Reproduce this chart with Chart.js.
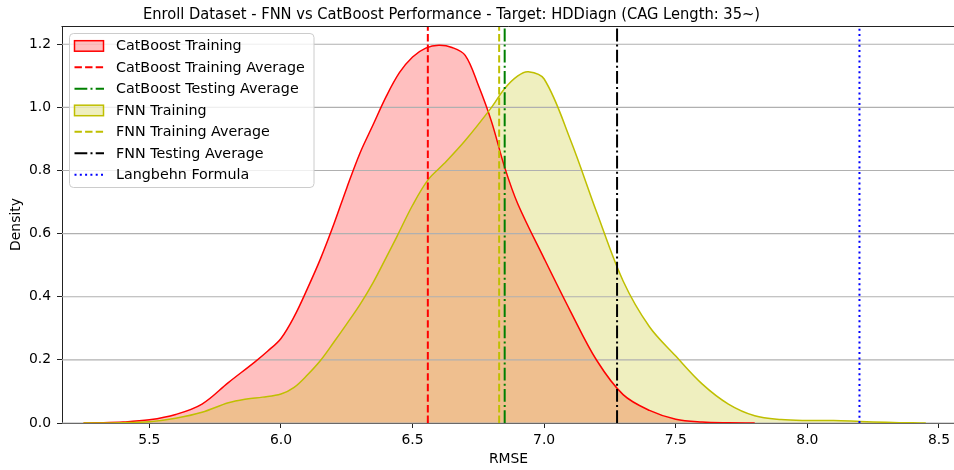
<!DOCTYPE html>
<html>
<head>
<meta charset="utf-8">
<script src="https://cdn.jsdelivr.net/npm/chart.js@4.4.1/dist/chart.umd.min.js"></script>
<style>
  html, body { margin: 0; padding: 0; background: #fff; overflow: hidden; }
  #wrap { width: 1000px; height: 470px; }
</style>
</head>
<body>
<div id="wrap"><canvas id="myChart" width="1000" height="470"></canvas></div>
<script>
// tick labels
const X_TICKS = [5.5, 6.0, 6.5, 7.0, 7.5, 8.0, 8.5];
const Y_TICKS = [0, 0.2, 0.4, 0.6, 0.8, 1.0, 1.2];

// CatBoost training RMSE density
const CAT_X = [5.25, 5.3, 5.4, 5.5, 5.6, 5.7, 5.8, 5.9, 5.95, 6.0, 6.05, 6.1, 6.15, 6.2, 6.25, 6.3, 6.35, 6.4, 6.45, 6.5, 6.55, 6.6, 6.65, 6.7, 6.75, 6.8, 6.85, 6.9, 7.0, 7.1, 7.2, 7.3, 7.4, 7.5, 7.6, 7.7, 7.8];
const CAT_Y = [0, 0.0005, 0.003, 0.01, 0.027, 0.06, 0.128, 0.193, 0.228, 0.268, 0.337, 0.425, 0.52, 0.628, 0.745, 0.855, 0.945, 1.035, 1.11, 1.16, 1.188, 1.197, 1.19, 1.165, 1.07, 0.955, 0.81, 0.694, 0.521, 0.354, 0.198, 0.09, 0.04, 0.012, 0.003, 0.0005, 0];

// FNN training RMSE density
const FNN_X = [5.25, 5.4, 5.5, 5.6, 5.7, 5.8, 5.87, 5.93, 6.0, 6.05, 6.1, 6.15, 6.2, 6.25, 6.3, 6.35, 6.4, 6.44, 6.5, 6.56, 6.62, 6.7, 6.8, 6.85, 6.9, 6.94, 7.0, 7.1, 7.2, 7.3, 7.4, 7.5, 7.6, 7.7, 7.8, 7.9, 8.0, 8.1, 8.2, 8.3, 8.4, 8.45];
const FNN_Y = [0, 0.001, 0.004, 0.015, 0.034, 0.064, 0.076, 0.082, 0.092, 0.113, 0.152, 0.198, 0.255, 0.314, 0.375, 0.445, 0.525, 0.59, 0.69, 0.772, 0.822, 0.895, 1.0, 1.06, 1.1, 1.113, 1.09, 0.897, 0.667, 0.45, 0.305, 0.212, 0.124, 0.06, 0.023, 0.011, 0.008, 0.008, 0.005, 0.002, 0.0005, 0];

// averages / reference values (vertical lines)
const CAT_TRAIN_AVG = 6.558;
const CAT_TEST_AVG = 6.850;
const FNN_TRAIN_AVG = 6.829;
const FNN_TEST_AVG = 7.277;
const LANGBEHN = 8.198;

// axis ranges
const X_MIN = 5.168, X_MAX = 8.561;
const Y_MIN = 0, Y_MAX = 1.258;

const FONT = "'DejaVu Sans', sans-serif";

function toPoints(xs, ys) {
  return xs.map((x, i) => ({ x: x, y: ys[i] }));
}

function kdeSet(label, xs, ys, color, fill, order) {
  return {
    label: label,
    data: toPoints(xs, ys),
    borderColor: color,
    backgroundColor: fill,
    borderWidth: 1.5,
    fill: "origin",
    pointRadius: 0,
    tension: 0.35,
    order: order,
    legendType: "patch",
  };
}

function vlineSet(label, x, color, dash) {
  return {
    label: label,
    data: [{ x: x, y: Y_MIN }, { x: x, y: Y_MAX }],
    borderColor: color,
    borderWidth: 2,
    borderDash: dash,
    borderCapStyle: "butt",
    fill: false,
    pointRadius: 0,
    order: 0,
    legendType: "line",
  };
}

const DASHED = [7.4, 3.2];
const DASHDOT = [12.8, 3.2, 2, 3.2];
const DOTTED = [2, 3.3];

const datasets = [
  kdeSet("CatBoost Training", CAT_X, CAT_Y, "#ff0000", "rgba(255,0,0,0.25)", 3),
  vlineSet("CatBoost Training Average", CAT_TRAIN_AVG, "#ff0000", DASHED),
  vlineSet("CatBoost Testing Average", CAT_TEST_AVG, "#008000", DASHDOT),
  kdeSet("FNN Training", FNN_X, FNN_Y, "#bfbf00", "rgba(191,191,0,0.25)", 2),
  vlineSet("FNN Training Average", FNN_TRAIN_AVG, "#bfbf00", DASHED),
  vlineSet("FNN Testing Average", FNN_TEST_AVG, "#000000", DASHDOT),
  vlineSet("Langbehn Formula", LANGBEHN, "#0000ff", DOTTED),
];

// text squeezed a little horizontally, the reference looks slightly narrow
function squeezedText(ctx, text, x, y, sx) {
  ctx.save();
  ctx.translate(x, y);
  ctx.scale(sx, 1);
  ctx.fillText(text, 0, 0);
  ctx.restore();
}

const decor = {
  id: "decor",
  beforeDatasetsDraw(chart) {
    // grid lines sit above the fills but below the lines, like matplotlib
    const ctx = chart.ctx, a = chart.chartArea, ys = chart.scales.y;
    ctx.save();
    ctx.strokeStyle = "#b0b0b0";
    ctx.lineWidth = 1.1;
    Y_TICKS.forEach((v) => {
      const py = ys.getPixelForValue(v);
      ctx.beginPath();
      ctx.moveTo(a.left, py);
      ctx.lineTo(a.right, py);
      ctx.stroke();
    });
    ctx.restore();
  },
  afterDraw(chart) {
    const ctx = chart.ctx, a = chart.chartArea;
    ctx.save();
    // top spine
    ctx.strokeStyle = "#222";
    ctx.lineWidth = 1;
    ctx.beginPath();
    ctx.moveTo(a.left - 0.5, Math.round(a.top) + 0.5);
    ctx.lineTo(a.right, Math.round(a.top) + 0.5);
    ctx.stroke();

    // title and axis labels
    ctx.fillStyle = "#000";
    ctx.textAlign = "center";
    ctx.textBaseline = "alphabetic";
    ctx.font = "16px " + FONT;
    squeezedText(ctx, "Enroll Dataset - FNN vs CatBoost Performance - Target: HDDiagn (CAG Length: 35~)", 451.5, 19, 0.918);
    ctx.textBaseline = "middle";
    ctx.font = "13.9px " + FONT;
    ctx.fillText("RMSE", 508.5, 459);
    ctx.save();
    ctx.translate(16, (a.top + a.bottom) / 2);
    ctx.rotate(-Math.PI / 2);
    ctx.fillText("Density", 0, 0);
    ctx.restore();

    // legend box
    const bx = 69.5, by = 33.5, bw = 244.5, bh = 154, r = 4;
    ctx.beginPath();
    ctx.moveTo(bx + r, by);
    ctx.arcTo(bx + bw, by, bx + bw, by + bh, r);
    ctx.arcTo(bx + bw, by + bh, bx, by + bh, r);
    ctx.arcTo(bx, by + bh, bx, by, r);
    ctx.arcTo(bx, by, bx + bw, by, r);
    ctx.closePath();
    ctx.fillStyle = "rgba(255,255,255,0.8)";
    ctx.fill();
    ctx.strokeStyle = "#cccccc";
    ctx.lineWidth = 1;
    ctx.stroke();

    ctx.textAlign = "left";
    chart.data.datasets.forEach((ds, i) => {
      const cy = 45.7 + i * 21.5;
      if (ds.legendType === "patch") {
        ctx.setLineDash([]);
        ctx.fillStyle = ds.backgroundColor;
        ctx.fillRect(74.5, cy - 5, 29, 10.5);
        ctx.strokeStyle = ds.borderColor;
        ctx.lineWidth = 1.5;
        ctx.strokeRect(74.5, cy - 5, 29, 10.5);
      } else {
        ctx.setLineDash(ds.borderDash);
        ctx.strokeStyle = ds.borderColor;
        ctx.lineWidth = 2;
        ctx.beginPath();
        ctx.moveTo(74.5, cy);
        ctx.lineTo(104, cy);
        ctx.stroke();
        ctx.setLineDash([]);
      }
      ctx.fillStyle = "#000";
      ctx.font = "14.8px " + FONT;
      squeezedText(ctx, ds.label, 116, cy + 0.5, 0.966);
    });
    ctx.restore();
  },
};

const tickFont = { family: FONT, size: 13.9 };

new Chart(document.getElementById("myChart").getContext("2d"), {
  type: "line",
  data: { datasets: datasets },
  options: {
    responsive: false,
    animation: false,
    devicePixelRatio: 1,
    layout: { padding: { left: 0, right: 45, top: 26, bottom: 0 } },
    plugins: {
      legend: { display: false },
      tooltip: { enabled: false },
      filler: { drawTime: "beforeDatasetsDraw" },
    },
    scales: {
      x: {
        type: "linear",
        min: X_MIN,
        max: X_MAX,
        afterBuildTicks: (s) => { s.ticks = X_TICKS.map((v) => ({ value: v })); },
        afterFit: (s) => { s.height = 47; },
        ticks: {
          callback: (v) => Number(v).toFixed(1),
          font: tickFont,
          color: "#000",
          padding: 4,
          maxRotation: 0,
          autoSkip: false,
        },
        grid: { drawOnChartArea: false, drawTicks: true, tickLength: 5, tickColor: "#222", tickWidth: 1 },
        border: { display: true, color: "#222", width: 1 },
      },
      y: {
        type: "linear",
        min: Y_MIN,
        max: Y_MAX,
        afterBuildTicks: (s) => { s.ticks = Y_TICKS.map((v) => ({ value: v })); },
        afterFit: (s) => { s.width = 62; },
        ticks: {
          callback: (v) => Number(v).toFixed(1),
          font: tickFont,
          color: "#000",
          padding: 6,
          autoSkip: false,
        },
        grid: { drawOnChartArea: false, drawTicks: true, tickLength: 5, tickColor: "#222", tickWidth: 1 },
        border: { display: true, color: "#222", width: 1 },
      },
    },
  },
  plugins: [decor],
});
</script>
</body>
</html>
